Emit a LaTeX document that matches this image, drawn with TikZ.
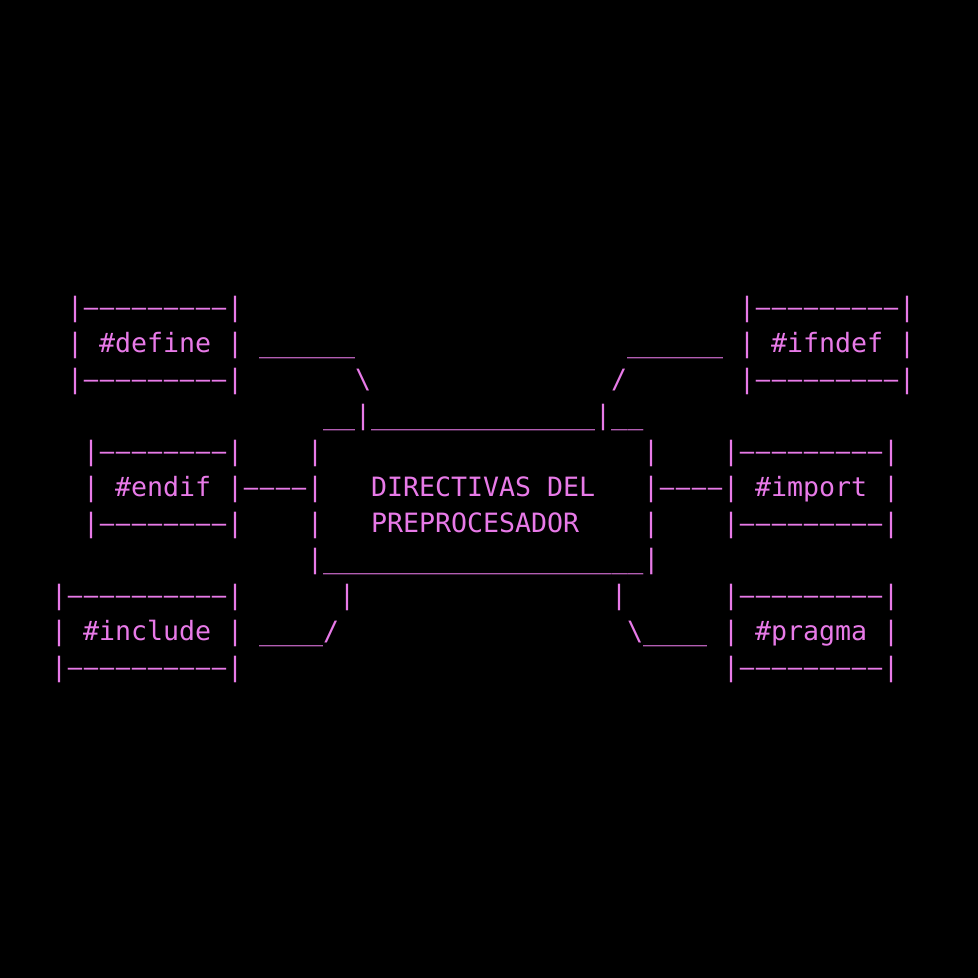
\documentclass[tikz,border=0pt]{standalone}
\usepackage{fontspec}
\usepackage{graphicx}
\setmonofont{DejaVu Sans Mono}
\definecolor{asciicol}{RGB}{232,122,232}
\newcommand\dsh{\makebox[0.602em][c]{\scalebox{0.9}[1]{–}}}
\tikzset{
  art/.style={font=\ttfamily\fontsize{26.6}{32}\selectfont, text=asciicol, inner sep=0pt, outer sep=0pt, anchor=base west},
}
% column c -> x = 51 + 16c ; line k -> baseline y = 316 + 36(k-1)
\begin{document}
\begin{tikzpicture}[x=1pt,y=-1pt]
\fill[black] (0,0) rectangle (978,978);
\useasboundingbox (0,0) rectangle (978,978);
% line 1
\node[art] (defTop) at ({51+16*1},316) {|\dsh\dsh\dsh\dsh\dsh\dsh\dsh\dsh\dsh|};
\node[art] (ifnTop) at ({51+16*43},316) {|\dsh\dsh\dsh\dsh\dsh\dsh\dsh\dsh\dsh|};
% line 2
\node[art] (define) at ({51+16*1},352) {| \#define |};
\node[art] (defLink) at ({51+16*13},352) {\_\_\_\_\_\_};
\node[art] (ifnLink) at ({51+16*36},352) {\_\_\_\_\_\_};
\node[art] (ifndef) at ({51+16*43},352) {| \#ifndef |};
% line 3
\node[art] (defBot) at ({51+16*1},388) {|\dsh\dsh\dsh\dsh\dsh\dsh\dsh\dsh\dsh|};
\node[art] (defSlash) at ({51+16*19},388) {\textbackslash};
\node[art] (ifnSlash) at ({51+16*35},388) {/};
\node[art] (ifnBot) at ({51+16*43},388) {|\dsh\dsh\dsh\dsh\dsh\dsh\dsh\dsh\dsh|};
% line 4
\node[art] (mainTop) at ({51+16*17},424) {\_\_|\_\_\_\_\_\_\_\_\_\_\_\_\_\_|\_\_};
% line 5
\node[art] (endTop) at ({51+16*2},460) {|\dsh\dsh\dsh\dsh\dsh\dsh\dsh\dsh|};
\node[art] (mainL5) at ({51+16*16},460) {|};
\node[art] (mainR5) at ({51+16*37},460) {|};
\node[art] (impTop) at ({51+16*42},460) {|\dsh\dsh\dsh\dsh\dsh\dsh\dsh\dsh\dsh|};
% line 6
\node[art] (endif) at ({51+16*2},496) {| \#endif |\dsh\dsh\dsh\dsh|};
\node[art] (title1) at ({51+16*20},496) {DIRECTIVAS DEL};
\node[art] (import) at ({51+16*37},496) {|\dsh\dsh\dsh\dsh| \#import |};
% line 7
\node[art] (endBot) at ({51+16*2},532) {|\dsh\dsh\dsh\dsh\dsh\dsh\dsh\dsh|};
\node[art] (mainL7) at ({51+16*16},532) {|};
\node[art] (title2) at ({51+16*20},532) {PREPROCESADOR};
\node[art] (mainR7) at ({51+16*37},532) {|};
\node[art] (impBot) at ({51+16*42},532) {|\dsh\dsh\dsh\dsh\dsh\dsh\dsh\dsh\dsh|};
% line 8
\node[art] (mainBot) at ({51+16*16},568) {|\_\_\_\_\_\_\_\_\_\_\_\_\_\_\_\_\_\_\_\_|};
% line 9
\node[art] (incTop) at ({51+16*0},604) {|\dsh\dsh\dsh\dsh\dsh\dsh\dsh\dsh\dsh\dsh|};
\node[art] (incBar) at ({51+16*18},604) {|};
\node[art] (praBar) at ({51+16*35},604) {|};
\node[art] (praTop) at ({51+16*42},604) {|\dsh\dsh\dsh\dsh\dsh\dsh\dsh\dsh\dsh|};
% line 10
\node[art] (include) at ({51+16*0},640) {| \#include |};
\node[art] (incLink) at ({51+16*13},640) {\_\_\_\_/};
\node[art] (praLink) at ({51+16*36},640) {\textbackslash\_\_\_\_};
\node[art] (pragma) at ({51+16*42},640) {| \#pragma |};
% line 11
\node[art] (incBot) at ({51+16*0},676) {|\dsh\dsh\dsh\dsh\dsh\dsh\dsh\dsh\dsh\dsh|};
\node[art] (praBot) at ({51+16*42},676) {|\dsh\dsh\dsh\dsh\dsh\dsh\dsh\dsh\dsh|};
\end{tikzpicture}
\end{document}
